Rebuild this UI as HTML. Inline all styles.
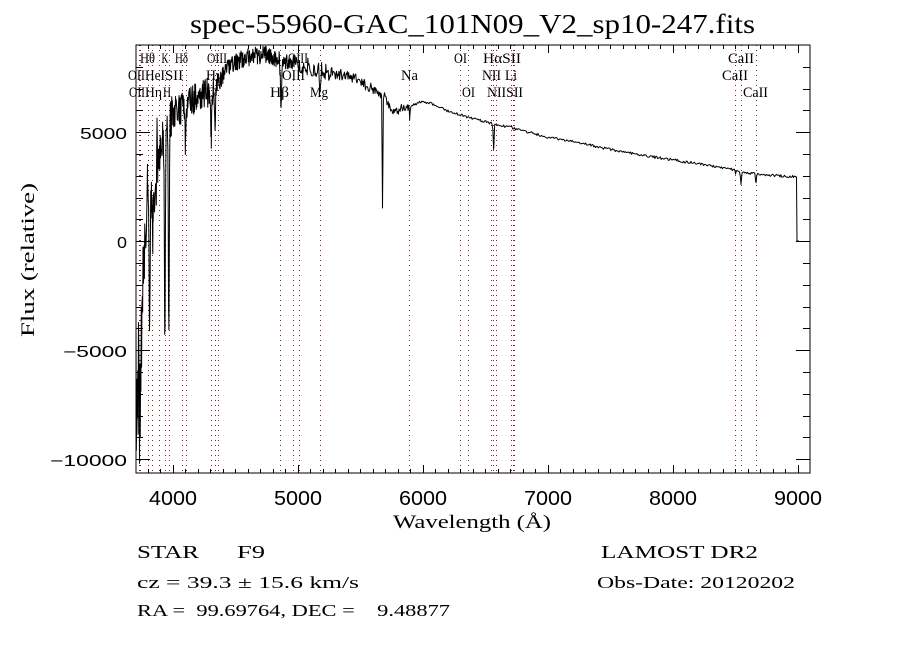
<!DOCTYPE html>
<html>
<head>
<meta charset="utf-8">
<style>
html,body{margin:0;padding:0;background:#fff;}
svg{display:block;}
.ser{font-family:"Liberation Serif","DejaVu Serif",serif;fill:#000;}
.san{font-family:"Liberation Sans","DejaVu Sans",sans-serif;fill:#000;}
</style>
</head>
<body>
<svg id="chart" width="900" height="650" viewBox="0 0 900 650" xmlns="http://www.w3.org/2000/svg">
<rect x="0" y="0" width="900" height="650" fill="#fff"/>
<defs>
<clipPath id="pc"><rect x="136" y="45" width="674" height="428"/></clipPath>
</defs>

<!-- title -->
<text class="ser" x="190" y="33" font-size="27" textLength="565" lengthAdjust="spacingAndGlyphs">spec-55960-GAC_101N09_V2_sp10-247.fits</text>

<!-- dotted line markers -->
<g stroke="#8b2222" stroke-width="1" stroke-dasharray="1,4" fill="none">
<path d="M139.5,45V473 M140.5,45V473 M148.5,45V473 M152.5,45V473 M159.5,45V473 M165.5,45V473 M169.5,45V473 M182.5,45V473 M186.5,45V473 M211.5,45V473 M215.5,45V473 M218.5,45V473 M280.5,45V473 M293.5,45V473 M299.5,45V473 M320.5,45V473 M409.5,45V473 M460.5,45V473 M468.5,45V473 M491.5,45V473 M493.5,45V473 M496.5,45V473 M511.5,45V473 M513.5,45V473 M514.5,45V473 M735.5,45V473 M741.5,45V473 M756.5,45V473"/>
</g>

<!-- spectrum -->
<g clip-path="url(#pc)">
<path id="spec" fill="none" stroke="#000" stroke-width="1" stroke-linejoin="round" d="M136,440 L137,320 L138,460 L139,300 L140,465 L141,330 L142,440 L143,280 L144,350 L145,230 L146,300 L147,160 L148,240 L149,200 L149.5,295 L150,205 L152,180 L153,215 L155,170 L157,130 L158,200 L160,150 L162,120 L164,140 L164.8,335 L165.5,130 L167,110 L168.8,340 L169.5,125 L172,100 L175,130 L178,105 L181,125 L183,100 L185.5,155 L187,110 L190,95 L195,110 L200,88 L205,100 L210,85 L211.5,140 L213,95 L214.5,135 L216,80 L220,90 L225,70 L230,60 L235,72 L240,50 L245,62 L250,48 L255,58 L260,46 L265,55 L270,47 L275,56 L279,60 L281,113 L283,62 L288,50 L293,70 L298,55 L303,68 L308,60 L313,75 L318,65 L320.5,100 L323,70 L328,62 L333,78 L338,68 L343,80 L348,72 L353,78 L358,76 L363,83 L368,85 L373,90 L378,94 L381,96 L382.5,208 L383.5,98 L388,106 L393,112 L398,110 L404,105 L409.5,120 L411,104 L420,102 L430,102 L440,108 L460,115 L490,123 L492,125 L493.6,149 L495,125 L513,128 L547,137 L580,143 L613,150 L647,156 L680,161 L713,166 L735,170 L741,184 L742,172 L747,173 L756,184 L757,174 L780,176 L796.5,177 L797,241 L799,241"/>
</g>

<!-- frame -->
<rect x="136" y="45" width="674" height="428" fill="none" stroke="#000" stroke-width="1" shape-rendering="crispEdges"/>

<!-- ticks -->
<g stroke="#000" stroke-width="1" fill="none" shape-rendering="crispEdges">
<path d="M173.5,473v-8 M298.5,473v-8 M423.5,473v-8 M548.5,473v-8 M673.5,473v-8 M798.5,473v-8
M173.5,45v8 M298.5,45v8 M423.5,45v8 M548.5,45v8 M673.5,45v8 M798.5,45v8"/>
<path d="M148.5,473v-4 M160.5,473v-4 M185.5,473v-4 M198.5,473v-4 M210.5,473v-4 M223.5,473v-4 M235.5,473v-4 M248.5,473v-4 M260.5,473v-4 M273.5,473v-4 M285.5,473v-4
M310.5,473v-4 M323.5,473v-4 M335.5,473v-4 M348.5,473v-4 M360.5,473v-4 M373.5,473v-4 M385.5,473v-4 M398.5,473v-4 M410.5,473v-4
M435.5,473v-4 M448.5,473v-4 M460.5,473v-4 M473.5,473v-4 M485.5,473v-4 M498.5,473v-4 M510.5,473v-4 M523.5,473v-4 M535.5,473v-4
M560.5,473v-4 M573.5,473v-4 M585.5,473v-4 M598.5,473v-4 M610.5,473v-4 M623.5,473v-4 M635.5,473v-4 M648.5,473v-4 M660.5,473v-4
M685.5,473v-4 M698.5,473v-4 M710.5,473v-4 M723.5,473v-4 M735.5,473v-4 M748.5,473v-4 M760.5,473v-4 M773.5,473v-4 M785.5,473v-4"/>
<path d="M148.5,45v4 M160.5,45v4 M185.5,45v4 M198.5,45v4 M210.5,45v4 M223.5,45v4 M235.5,45v4 M248.5,45v4 M260.5,45v4 M273.5,45v4 M285.5,45v4
M310.5,45v4 M323.5,45v4 M335.5,45v4 M348.5,45v4 M360.5,45v4 M373.5,45v4 M385.5,45v4 M398.5,45v4 M410.5,45v4
M435.5,45v4 M448.5,45v4 M460.5,45v4 M473.5,45v4 M485.5,45v4 M498.5,45v4 M510.5,45v4 M523.5,45v4 M535.5,45v4
M560.5,45v4 M573.5,45v4 M585.5,45v4 M598.5,45v4 M610.5,45v4 M623.5,45v4 M635.5,45v4 M648.5,45v4 M660.5,45v4
M685.5,45v4 M698.5,45v4 M710.5,45v4 M723.5,45v4 M735.5,45v4 M748.5,45v4 M760.5,45v4 M773.5,45v4 M785.5,45v4"/>
<path d="M136,459.5h14 M136,350.5h14 M136,241.5h14 M136,132.5h14
M810,459.5h-14 M810,350.5h-14 M810,241.5h-14 M810,132.5h-14"/>
<path d="M136,437.5h7 M136,416.5h7 M136,394.5h7 M136,372.5h7 M136,328.5h7 M136,307.5h7 M136,285.5h7 M136,263.5h7 M136,219.5h7 M136,198.5h7 M136,176.5h7 M136,154.5h7 M136,110.5h7 M136,89.5h7 M136,67.5h7"/>
<path d="M810,437.5h-7 M810,416.5h-7 M810,394.5h-7 M810,372.5h-7 M810,328.5h-7 M810,307.5h-7 M810,285.5h-7 M810,263.5h-7 M810,219.5h-7 M810,198.5h-7 M810,176.5h-7 M810,154.5h-7 M810,110.5h-7 M810,89.5h-7 M810,67.5h-7"/>
</g>

<!-- line labels -->
<g class="ser" font-size="15">
<text x="140" y="63" textLength="15" lengthAdjust="spacingAndGlyphs">Hθ</text>
<text x="161.5" y="63" textLength="7" lengthAdjust="spacingAndGlyphs">K</text>
<text x="175" y="63" textLength="13" lengthAdjust="spacingAndGlyphs">Hδ</text>
<text x="207" y="63" textLength="20" lengthAdjust="spacingAndGlyphs">OIII</text>
<text x="288" y="63" textLength="20" lengthAdjust="spacingAndGlyphs">OIII</text>
<text x="454" y="63" textLength="13" lengthAdjust="spacingAndGlyphs">OI</text>
<text x="483" y="63" textLength="38" lengthAdjust="spacingAndGlyphs">HαSII</text>
<text x="728" y="63" textLength="26" lengthAdjust="spacingAndGlyphs">CaII</text>

<text x="128" y="80" textLength="17" lengthAdjust="spacingAndGlyphs">OII</text>
<text x="145" y="80" textLength="20" lengthAdjust="spacingAndGlyphs">HeI</text>
<text x="165" y="80" textLength="18" lengthAdjust="spacingAndGlyphs">SII</text>
<text x="206" y="80" textLength="16" lengthAdjust="spacingAndGlyphs">Hγ</text>
<text x="282" y="80" textLength="23" lengthAdjust="spacingAndGlyphs">OIII</text>
<text x="401" y="80" textLength="17" lengthAdjust="spacingAndGlyphs">Na</text>
<text x="482" y="80" textLength="19" lengthAdjust="spacingAndGlyphs">NII</text>
<text x="505" y="80" textLength="12" lengthAdjust="spacingAndGlyphs">Li</text>
<text x="722" y="80" textLength="26" lengthAdjust="spacingAndGlyphs">CaII</text>

<text x="129" y="97" textLength="16" lengthAdjust="spacingAndGlyphs">OII</text>
<text x="145" y="97" textLength="17" lengthAdjust="spacingAndGlyphs">Hη</text>
<text x="163" y="97" textLength="8" lengthAdjust="spacingAndGlyphs">H</text>
<text x="206" y="97" textLength="10" lengthAdjust="spacingAndGlyphs">G</text>
<text x="270" y="97" textLength="19" lengthAdjust="spacingAndGlyphs">Hβ</text>
<text x="310" y="97" textLength="18" lengthAdjust="spacingAndGlyphs">Mg</text>
<text x="462" y="97" textLength="13" lengthAdjust="spacingAndGlyphs">OI</text>
<text x="487" y="97" textLength="36" lengthAdjust="spacingAndGlyphs">NIISII</text>
<text x="743" y="97" textLength="25" lengthAdjust="spacingAndGlyphs">CaII</text>
</g>

<!-- y tick labels -->
<g class="san" font-size="15.5" text-anchor="end">
<text x="127" y="139" textLength="47" lengthAdjust="spacingAndGlyphs">5000</text>
<text x="127" y="248" textLength="10" lengthAdjust="spacingAndGlyphs">0</text>
<text x="127" y="357" textLength="64" lengthAdjust="spacingAndGlyphs">−5000</text>
<text x="127" y="466" textLength="77" lengthAdjust="spacingAndGlyphs">−10000</text>
</g>

<!-- x tick labels -->
<g class="san" font-size="20">
<text x="149" y="505" textLength="48" lengthAdjust="spacingAndGlyphs">4000</text>
<text x="274" y="505" textLength="48" lengthAdjust="spacingAndGlyphs">5000</text>
<text x="399" y="505" textLength="48" lengthAdjust="spacingAndGlyphs">6000</text>
<text x="524" y="505" textLength="48" lengthAdjust="spacingAndGlyphs">7000</text>
<text x="649" y="505" textLength="48" lengthAdjust="spacingAndGlyphs">8000</text>
<text x="774" y="505" textLength="48" lengthAdjust="spacingAndGlyphs">9000</text>
</g>

<!-- axis titles -->
<text class="ser" x="393" y="528" font-size="19" textLength="158" lengthAdjust="spacingAndGlyphs">Wavelength (Å)</text>
<text class="ser" transform="translate(34,337) rotate(-90)" x="0" y="0" font-size="19" textLength="154" lengthAdjust="spacingAndGlyphs">Flux (relative)</text>

<!-- info text -->
<g class="ser">
<text x="137" y="558" font-size="17.5" textLength="62" lengthAdjust="spacingAndGlyphs">STAR</text>
<text x="237" y="558" font-size="17.5" textLength="28" lengthAdjust="spacingAndGlyphs">F9</text>
<text x="137" y="588" font-size="17" textLength="222" lengthAdjust="spacingAndGlyphs" style="white-space:pre">cz = 39.3 ± 15.6 km/s</text>
<text x="137" y="616" font-size="17" textLength="313" lengthAdjust="spacingAndGlyphs" style="white-space:pre">RA =  99.69764, DEC =    9.48877</text>
<text x="601" y="558" font-size="17.5" textLength="157" lengthAdjust="spacingAndGlyphs" style="white-space:pre">LAMOST DR2</text>
<text x="597" y="588" font-size="17" textLength="198" lengthAdjust="spacingAndGlyphs">Obs-Date: 20120202</text>
</g>
</svg>

<script>
(function(){
  var seed = 987654321;
  function r(){ seed = (Math.imul(seed,1664525) + 1013904223) >>> 0; return seed/4294967296; }
  var A = [[136,395],[139,390],[142,330],[144,270],[146,215],[149,215],[152,195],[156,185],[160,155],[163,135],[167,125],[171,115],[176,112],[180,110],[185,105],[190,100],[200,96],[210,90],[216,85],[220,80],[228,68],[240,60],[255,55],[270,55],[278,60],[285,62],[295,62],[305,66],[315,68],[325,70],[335,74],[345,75],[355,78],[362,83],[370,87],[378,93],[384,97],[390,108],[396,112],[402,108],[410,106],[420,102],[430,103],[440,108],[460,115],[490,123],[513,128],[547,137],[580,143],[613,150],[647,156],[680,161],[713,166],[735,170],[747,173],[780,176],[796,177]];
  function base(x){
    for (var i=0;i<A.length-1;i++){
      if (x>=A[i][0] && x<=A[i+1][0]){
        var t=(x-A[i][0])/(A[i+1][0]-A[i][0]);
        return A[i][1]+t*(A[i+1][1]-A[i][1]);
      }
    }
    return A[A.length-1][1];
  }
  function amp(x){
    if (x<142) return 75;
    if (x<146) return 45;
    if (x<160) return 30;
    if (x<172) return 22;
    if (x<215) return 16;
    if (x<280) return 9;
    if (x<330) return 9;
    if (x<385) return 5.5;
    if (x<410) return 4;
    return 1.3;
  }
  function step(x){
    if (x<280) return 0.35;
    if (x<420) return 0.6;
    return 0.9;
  }
  var S = [[149.5,95,0.7],[164.8,205,0.7],[168.8,215,0.7],[185.5,45,0.7],[211.3,45,0.8],[215,45,0.7],[281,55,0.8],[320.3,25,0.7],[382.5,110,0.5],[409.7,12,0.6],[493.6,25,0.6],[741,12,0.6],[756,10,0.6],[735.6,4,0.6],[147.5,-55,0.5],[157,-45,0.5],[153,40,0.5],[143,-60,0.5],[140,50,0.5]];
  var xs = [];
  var x = 136;
  while (x < 796){ xs.push(x); x += step(x); }
  for (var k=0;k<S.length;k++) xs.push(S[k][0]);
  xs.sort(function(a,b){return a-b;});
  var d = "";
  for (var i=0;i<xs.length;i++){
    var xx = xs[i];
    var y = base(xx) + (r()-0.5)*2*amp(xx);
    for (var j=0;j<S.length;j++){
      var dx=(xx-S[j][0])/S[j][2];
      if (Math.abs(dx)<4) y += S[j][1]*Math.exp(-dx*dx);
    }
    if (y<40) y=40; if (y>480) y=480;
    d += (i===0?"M":"L") + xx.toFixed(2) + "," + y.toFixed(1) + " ";
  }
  d += "L796.5,177 L797,241 L799,241";
  document.getElementById("spec").setAttribute("d", d);
})();
</script>
</body>
</html>
